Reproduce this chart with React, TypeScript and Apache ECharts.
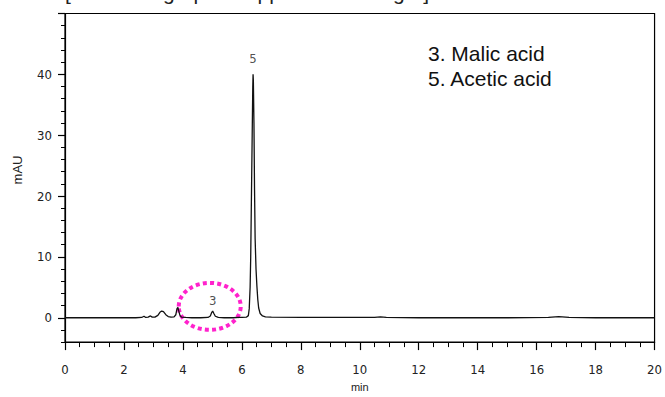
import { useEffect, useRef } from "react";
import * as echarts from "echarts";

// Chromatogram trace (retention time in min, signal in mAU)
const retentionTime = [
  0, 0.5, 1, 1.5, 2, 2.4, 2.6, 2.68, 2.74, 2.82, 2.9, 2.96, 3.05, 3.15, 3.22, 3.28, 3.34, 3.42, 3.5, 3.6,
  3.7, 3.76, 3.8, 3.83, 3.86, 3.9, 3.95, 4.1, 4.3, 4.6, 4.85, 4.93, 4.98, 5.01, 5.05, 5.1, 5.2, 5.4, 5.7, 5.9,
  6.0, 6.15, 6.22, 6.25, 6.28, 6.3, 6.32, 6.35, 6.37, 6.38, 6.39, 6.41, 6.43, 6.45, 6.48, 6.51, 6.54, 6.57, 6.62, 6.7,
  6.8, 7.0, 8.0, 9.0, 10.0, 10.5, 10.7, 10.9, 12, 14, 15, 16.4, 16.75, 17.1, 18, 19, 20,
];
const absorbance = [
  0, 0, 0, 0, 0, 0, 0.05, 0.25, 0.05, 0.1, 0.3, 0.1, 0.1, 0.4, 0.9, 1.1, 1.0, 0.5, 0.2, 0.1,
  0.15, 0.5, 1.5, 1.7, 1.1, 0.4, 0.1, 0.05, 0, 0, 0.05, 0.3, 0.9, 1.1, 0.7, 0.25, 0.05, 0, 0, 0.05,
  0.05, 0.1, 0.35, 1.5, 5, 10, 18, 30, 38, 40, 39, 32, 21, 13, 8, 5.2, 3, 1.6, 0.7, 0.3,
  0.15, 0.1, 0.05, 0.05, 0.05, 0.05, 0.15, 0.05, 0, 0, 0, 0.05, 0.2, 0.05, 0, 0, 0,
];

// Peak labels
const peakNames = ["3", "5"];
const peakTimes = [5.01, 6.38];
const peakLabelLevels = [2.9, 42.6];

// Highlight ellipse around peak 3 (data-space centre)
const highlightCenter = [4.91, 1.87];

// Axis ticks
const yMajorTicks = [0, 10, 20, 30, 40, 50];
const yLabelTicks = [0, 10, 20, 30, 40];
const yMinorTicks = [-4, -2, 2, 4, 6, 8, 12, 14, 16, 18, 22, 24, 26, 28, 32, 34, 36, 38, 42, 44, 46, 48];

const legendLines = ["3. Malic acid", "5. Acetic acid"];
const titleText = "[Chromatograph of apple cider vinegar]";

const NARROW = "'Liberation Sans Narrow', 'DejaVu Sans Condensed', 'Liberation Sans', sans-serif";
const SANS = "'Liberation Sans', Arial, sans-serif";

export default function App() {
  const ref = useRef<HTMLDivElement>(null);

  useEffect(() => {
    if (!ref.current) return;
    const chart = echarts.init(ref.current, undefined, { renderer: "svg" });
    const trace = retentionTime.map((t, i) => [t, absorbance[i]]);
    const labels = peakNames.map((n, i) => ({ value: [peakTimes[i], peakLabelLevels[i]], name: n }));

    chart.setOption({
      animation: false,
      backgroundColor: "#fff",
      grid: {
        left: 65,
        right: 5,
        top: 13.5,
        bottom: 52,
        show: true,
        borderColor: "#000",
        borderWidth: 1.2,
        backgroundColor: "transparent",
      },
      xAxis: {
        type: "value",
        min: 0,
        max: 20,
        interval: 2,
        name: "min",
        nameLocation: "middle",
        nameGap: 38,
        nameTextStyle: { fontSize: 11, color: "#222", fontFamily: SANS },
        axisLine: { show: true, onZero: false, lineStyle: { color: "#000", width: 1.2 } },
        axisTick: { show: true, length: 8, lineStyle: { color: "#000", width: 1.2 } },
        minorTick: { show: true, splitNumber: 4, length: 5, lineStyle: { color: "#000", width: 1 } },
        axisLabel: { margin: 21, fontSize: 13, color: "#222", fontFamily: NARROW },
        splitLine: { show: false },
        minorSplitLine: { show: false },
      },
      yAxis: [
        {
          type: "value",
          min: -4,
          max: 50,
          position: "left",
          axisLine: { show: true, onZero: false, lineStyle: { color: "#000", width: 1.2 } },
          axisTick: { show: true, length: 7, customValues: yMajorTicks, lineStyle: { color: "#000", width: 1.2 } },
          axisLabel: { margin: 13, fontSize: 13, color: "#222", fontFamily: NARROW, customValues: yLabelTicks },
          splitLine: { show: false },
        },
        {
          type: "value",
          min: -4,
          max: 50,
          position: "left",
          axisLine: { show: false },
          axisTick: { show: true, length: 4, customValues: yMinorTicks, lineStyle: { color: "#000", width: 1 } },
          axisLabel: { show: false },
          splitLine: { show: false },
        },
      ],
      series: [
        {
          type: "line",
          data: trace,
          showSymbol: false,
          symbol: "none",
          lineStyle: { color: "#111", width: 1.3 },
          silent: true,
        },
        {
          type: "scatter",
          data: labels,
          symbolSize: 0,
          label: {
            show: true,
            position: "inside",
            formatter: (p: any) => p.name,
            fontSize: 13,
            color: "#222",
            fontFamily: NARROW,
          },
          silent: true,
        },
      ],
    });

    const [cx, cy] = chart.convertToPixel({ xAxisIndex: 0, yAxisIndex: 0 }, highlightCenter) as number[];

    chart.setOption({
      graphic: [
        {
          type: "text",
          id: "title",
          left: 65,
          top: -18,
          style: { text: titleText, fontSize: 21, fill: "#222", fontFamily: SANS },
          silent: true,
        },
        {
          type: "text",
          id: "yname",
          x: 17.5,
          y: 170,
          rotation: Math.PI / 2,
          style: {
            text: "mAU",
            fontSize: 13,
            fill: "#222",
            fontFamily: SANS,
            align: "center",
            verticalAlign: "middle",
          },
          silent: true,
        },
        ...legendLines.map((t, i) => ({
          type: "text",
          id: "leg" + i,
          x: 428,
          y: 53 + i * 25,
          style: { text: t, fontSize: 21, fill: "#111", fontFamily: SANS, verticalAlign: "middle" },
          silent: true,
        })),
        {
          type: "ellipse",
          id: "highlight",
          shape: { cx, cy, rx: 31, ry: 23.5 },
          style: { fill: "none", stroke: "#ff22cc", lineWidth: 4, lineDash: [4, 3.2] },
          silent: true,
        },
      ],
    });

    return () => chart.dispose();
  }, []);

  return <div ref={ref} style={{ width: 665, height: 397, position: "absolute", left: 0, top: 0 }} />;
}
